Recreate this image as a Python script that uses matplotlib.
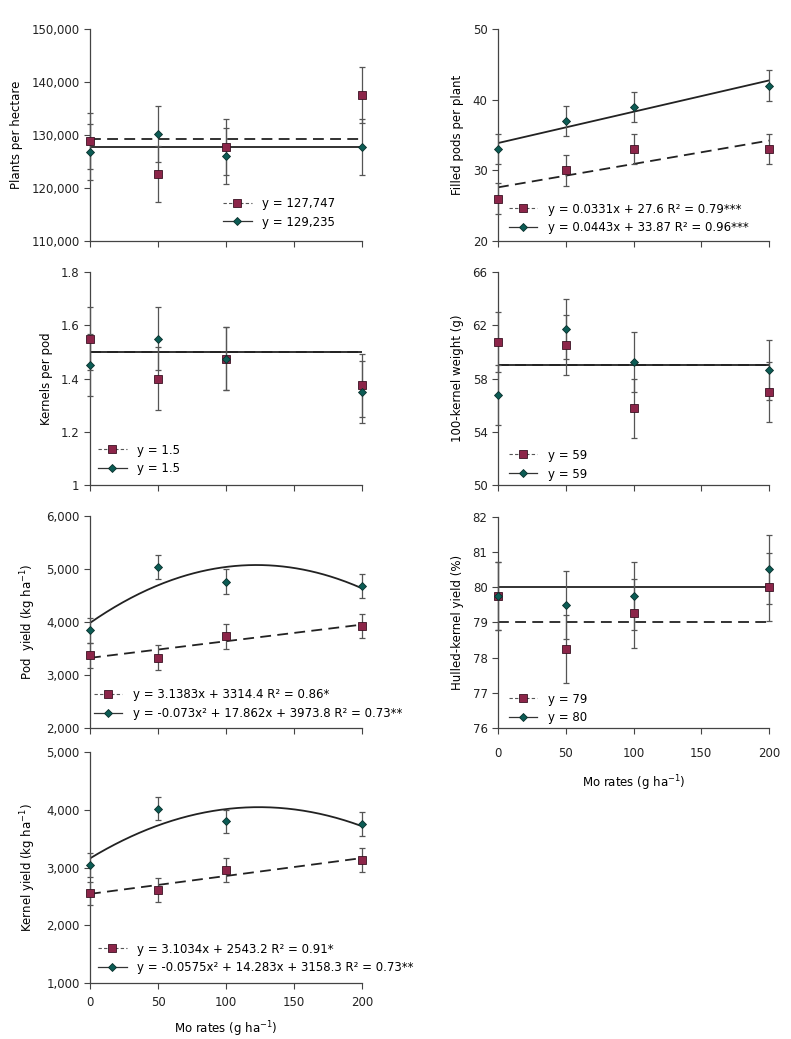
import numpy as np
import matplotlib
matplotlib.use('Agg')
import matplotlib.pyplot as plt
from matplotlib.lines import Line2D
from matplotlib.ticker import FuncFormatter

# Mo rates (g/ha)
rates = [0, 50, 100, 200]

# plants per hectare
plants_sq = [128900, 122700, 127700, 137600]
plants_sq_err = [5250, 5300, 5250, 5300]
plants_di = [126800, 130200, 126050, 127700]
plants_di_err = [5250, 5300, 5250, 5300]

# filled pods per plant
pods_sq = [26, 30, 33, 33]
pods_sq_err = [2.2, 2.15, 2.1, 2.15]
pods_di = [33, 37, 39, 42]
pods_di_err = [2.15, 2.15, 2.15, 2.15]

# kernels per pod
kpp_sq = [1.55, 1.40, 1.475, 1.374]
kpp_sq_err = [0.117, 0.117, 0.117, 0.117]
kpp_di = [1.45, 1.55, 1.475, 1.35]
kpp_di_err = [0.117, 0.117, 0.117, 0.117]

# 100-kernel weight (g)
hkw_sq = [60.73, 60.5, 55.75, 57.0]
hkw_sq_err = [2.25, 2.25, 2.25, 2.25]
hkw_di = [56.75, 61.75, 59.25, 58.65]
hkw_di_err = [2.25, 2.25, 2.25, 2.25]

# pod yield (kg/ha)
pod_sq = [3365, 3321, 3723, 3918]
pod_sq_err = [235, 230, 232, 230]
pod_di = [3836, 5031, 4755, 4667]
pod_di_err = [235, 230, 230, 228]

# hulled-kernel yield (%)
hull_sq = [79.75, 78.25, 79.25, 80.0]
hull_sq_err = [0.97, 0.97, 0.97, 0.97]
hull_di = [79.75, 79.5, 79.75, 80.5]
hull_di_err = [0.97, 0.97, 0.97, 0.97]

# kernel yield (kg/ha)
ker_sq = [2552, 2610, 2958, 3127]
ker_sq_err = [203, 203, 203, 203]
ker_di = [3050, 4017, 3797, 3751]
ker_di_err = [209, 200, 203, 202]

# fitted equations, coefficients (c2, c1, c0)
fit_plants = [(0, 0, 129235), (0, 0, 127747)]
fit_pods = [(0, 0.0331, 27.6), (0, 0.0443, 33.87)]
fit_kpp = [(0, 0, 1.5), (0, 0, 1.5)]
fit_hkw = [(0, 0, 59), (0, 0, 59)]
fit_pod = [(0, 3.1383, 3314.4), (-0.073, 17.862, 3973.8)]
fit_hull = [(0, 0, 79), (0, 0, 80)]
fit_ker = [(0, 3.1034, 2543.2), (-0.0575, 14.283, 3158.3)]

labels_plants = ['y = 127,747', 'y = 129,235']
labels_pods = ['y = 0.0331x + 27.6 R\u00b2 = 0.79***', 'y = 0.0443x + 33.87 R\u00b2 = 0.96***']
labels_kpp = ['y = 1.5', 'y = 1.5']
labels_hkw = ['y = 59', 'y = 59']
labels_pod = ['y = 3.1383x + 3314.4 R\u00b2 = 0.86*',
              'y = -0.073x\u00b2 + 17.862x + 3973.8 R\u00b2 = 0.73**']
labels_hull = ['y = 79', 'y = 80']
labels_ker = ['y = 3.1034x + 2543.2 R\u00b2 = 0.91*',
              'y = -0.0575x\u00b2 + 14.283x + 3158.3 R\u00b2 = 0.73**']

SQ_COLOR = '#8c2549'
DI_COLOR = '#0c5c55'
FS = 8.5
SQ_MS = 5.4
DI_MS = 4.0

plt.rcParams['font.family'] = ['DejaVu Sans']
plt.rcParams['font.size'] = FS
plt.rcParams['mathtext.fontset'] = 'dejavusans'

fig = plt.figure(figsize=(7.91, 10.39), dpi=100)


def make_panel(rect, sq, sq_err, di, di_err, fits, labels, ylim, yticks, ylabel,
               leg_xy, xlabels=False, comma=False, fmt=None, xpad=4, xlabelpad=7):
    ax = fig.add_axes(rect)
    xs = np.linspace(0, 200, 200)
    c = fits[0]
    ax.plot(xs, c[0] * xs**2 + c[1] * xs + c[2], color='#222222', lw=1.3,
            ls=(0, (6, 3.5)), zorder=2)
    c = fits[1]
    ax.plot(xs, c[0] * xs**2 + c[1] * xs + c[2], color='#222222', lw=1.3,
            ls='-', zorder=2)
    ax.errorbar(rates, sq, yerr=sq_err, fmt='none', ecolor='#555555', elinewidth=0.9,
                capsize=2.5, capthick=0.9, zorder=3, clip_on=False)
    ax.errorbar(rates, di, yerr=di_err, fmt='none', ecolor='#555555', elinewidth=0.9,
                capsize=2.5, capthick=0.9, zorder=3, clip_on=False)
    ax.plot(rates, sq, ls='none', marker='s', ms=SQ_MS, mfc=SQ_COLOR, mec='#3a1222',
            mew=0.6, zorder=4, clip_on=False)
    ax.plot(rates, di, ls='none', marker='D', ms=DI_MS, mfc=DI_COLOR, mec='#0a2f2b',
            mew=0.6, zorder=5, clip_on=False)

    ax.set_xlim(0, 200)
    ax.set_ylim(*ylim)
    ax.set_xticks([0, 50, 100, 150, 200])
    ax.set_yticks(yticks)
    if comma:
        ax.yaxis.set_major_formatter(FuncFormatter(lambda v, p: '{:,.0f}'.format(v)))
    elif fmt is not None:
        ax.yaxis.set_major_formatter(FuncFormatter(fmt))
    if not xlabels:
        ax.set_xticklabels([])
    else:
        ax.set_xlabel(r'Mo rates (g ha$^{-1}$)', fontsize=FS, labelpad=xlabelpad)
    ax.set_ylabel(ylabel, fontsize=FS, labelpad=6)
    for s in ['top', 'right']:
        ax.spines[s].set_visible(False)
    for s in ['left', 'bottom']:
        ax.spines[s].set_color('#444444')
        ax.spines[s].set_linewidth(0.9)
    ax.tick_params(direction='out', length=4.5, width=0.8, color='#444444',
                   labelsize=FS, labelcolor='#222222', pad=3)
    ax.tick_params(axis='x', pad=xpad)

    handles = [
        Line2D([], [], color='#555555', ls=(0, (3, 2)), lw=0.8, marker='s', ms=SQ_MS,
               mfc=SQ_COLOR, mec='#3a1222', mew=0.6),
        Line2D([], [], color='#333333', ls='-', lw=0.9, marker='D', ms=DI_MS,
               mfc=DI_COLOR, mec='#0a2f2b', mew=0.6),
    ]
    ax.legend(handles, labels, loc='lower left', bbox_to_anchor=leg_xy, frameon=False,
              fontsize=FS, handlelength=2.4, handletextpad=0.9, borderpad=0,
              borderaxespad=0, labelspacing=0.5)
    return ax


L_LEFT, L_W = 0.1138, 0.3439
R_LEFT, R_W = 0.6296, 0.3426

make_panel([L_LEFT, 0.768, L_W, 0.204], plants_sq, plants_sq_err, plants_di, plants_di_err,
           fit_plants, labels_plants, (110000, 150000), range(110000, 150001, 10000),
           'Plants per hectare', (0.49, 0.059), comma=True)
make_panel([R_LEFT, 0.768, R_W, 0.204], pods_sq, pods_sq_err, pods_di, pods_di_err,
           fit_pods, labels_pods, (20, 50), [20, 30, 40, 50],
           'Filled pods per plant', (0.04, 0.031))
make_panel([L_LEFT, 0.5332, L_W, 0.205], kpp_sq, kpp_sq_err, kpp_di, kpp_di_err,
           fit_kpp, labels_kpp, (1, 1.8), [1, 1.2, 1.4, 1.6, 1.8],
           'Kernels per pod', (0.03, 0.045), fmt=lambda v, p: '{:g}'.format(round(v, 1)))
make_panel([R_LEFT, 0.5332, R_W, 0.205], hkw_sq, hkw_sq_err, hkw_di, hkw_di_err,
           fit_hkw, labels_hkw, (50, 66), [50, 54, 58, 62, 66],
           '100-kernel weight (g)', (0.04, 0.021))
make_panel([L_LEFT, 0.2998, L_W, 0.204], pod_sq, pod_sq_err, pod_di, pod_di_err,
           fit_pod, labels_pod, (2000, 6000), range(2000, 6001, 1000),
           r'Pod  yield (kg ha$^{-1}$)', (0.015, 0.035), comma=True)
make_panel([R_LEFT, 0.2993, R_W, 0.2035], hull_sq, hull_sq_err, hull_di, hull_di_err,
           fit_hull, labels_hull, (76, 82), range(76, 83),
           'Hulled-kernel yield (%)', (0.04, 0.017), xlabels=True, xpad=9, xlabelpad=10)
make_panel([L_LEFT, 0.0539, L_W, 0.2223], ker_sq, ker_sq_err, ker_di, ker_di_err,
           fit_ker, labels_ker, (1000, 5000), range(1000, 5001, 1000),
           r'Kernel yield (kg ha$^{-1}$)', (0.03, 0.037), xlabels=True, comma=True,
           xpad=5, xlabelpad=7)

fig.savefig('out.png', dpi=100)
